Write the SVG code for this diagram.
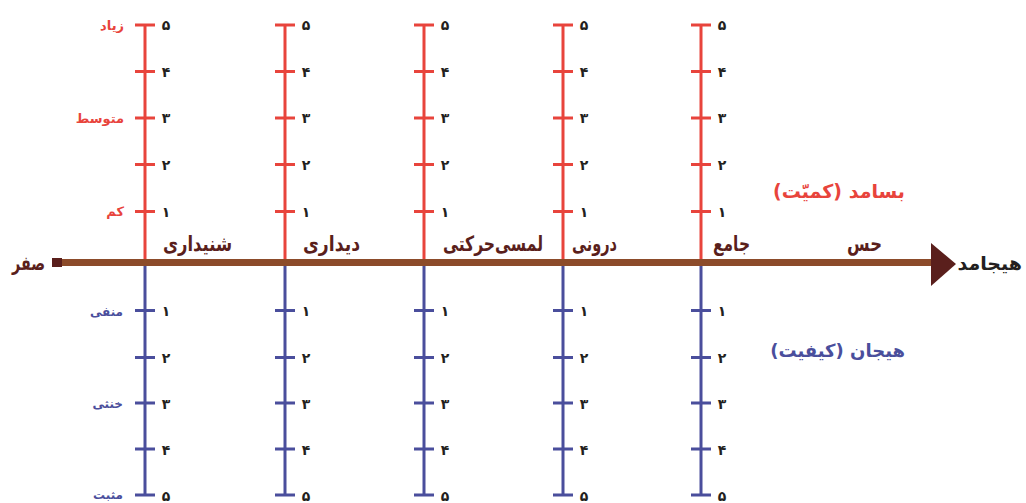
<svg xmlns="http://www.w3.org/2000/svg" width="1026" height="503" viewBox="0 0 1026 503">
<style>
.r{stroke:#e8443c;stroke-width:3;fill:none}
.b{stroke:#4a4e9c;stroke-width:3;fill:none}
.t{font-family:"DejaVu Sans",sans-serif;font-weight:bold}
.num{font-family:"DejaVu Sans",sans-serif;font-weight:bold;font-size:14px;fill:#231f20;text-anchor:middle}
.rl{fill:#e8443c;font-size:13px;text-anchor:end}
.bl{fill:#4a4e9c;font-size:12px;text-anchor:end}
.cl{fill:#5a1f1c;font-size:21px;text-anchor:end}
</style>
<defs>
<g id="up">
<path class="r" d="M0,25V262M-10,25H10M-10,71.5H10M-10,118H10M-10,164.5H10M-10,211.5H10"/>
<text class="num" x="21" y="30">۵</text>
<text class="num" x="21" y="77">۴</text>
<text class="num" x="21" y="123">۳</text>
<text class="num" x="21" y="170">۲</text>
<text class="num" x="21" y="217">۱</text>
</g>
<g id="dn">
<path class="b" d="M0,262V495M-10,310.5H10M-10,357.5H10M-10,403H10M-10,449H10M-10,495H10"/>
<text class="num" x="21" y="316">۱</text>
<text class="num" x="21" y="363">۲</text>
<text class="num" x="21" y="409">۳</text>
<text class="num" x="21" y="455">۴</text>
<text class="num" x="21" y="501">۵</text>
</g>
</defs>
<g id="scales">
<use href="#up" x="145"/><use href="#dn" x="145"/>
<use href="#up" x="285"/><use href="#dn" x="285"/>
<use href="#up" x="424"/><use href="#dn" x="424"/>
<use href="#up" x="563"/><use href="#dn" x="563"/>
<use href="#up" x="701"/><use href="#dn" x="701"/>
</g>
<g id="connectors">
<line x1="58" y1="262.5" x2="934" y2="262.5" stroke="#8c4b2a" stroke-width="7"/>
<rect x="52" y="258" width="10" height="9" fill="#5a1f1c"/>
<polygon points="931,243 956,264 931,286" fill="#5a1f1c"/>
</g>
<g id="left-labels" class="t">
<text class="rl" x="124" y="30">زیاد</text>
<text class="rl" x="124" y="123">متوسط</text>
<text class="rl" x="124" y="216">کم</text>
<text class="bl" x="123" y="316">منفی</text>
<text class="bl" x="123" y="408">خنثی</text>
<text class="bl" x="123" y="499">مثبت</text>
<text x="45" y="270" fill="#5a1f1c" font-size="20" text-anchor="end" textLength="33" lengthAdjust="spacingAndGlyphs">صفر</text>
</g>
<g id="col-labels" class="t">
<text class="cl" x="232" y="251" textLength="69" lengthAdjust="spacingAndGlyphs">شنیداری</text>
<text class="cl" x="360" y="251" textLength="57" lengthAdjust="spacingAndGlyphs">دیداری</text>
<text class="cl" x="543" y="251" textLength="100" lengthAdjust="spacingAndGlyphs">لمسی‌حرکتی</text>
<text class="cl" x="617" y="251" textLength="45" lengthAdjust="spacingAndGlyphs">درونی</text>
<text class="cl" x="750" y="251" textLength="37" lengthAdjust="spacingAndGlyphs">جامع</text>
<text class="cl" x="882" y="251" textLength="35" lengthAdjust="spacingAndGlyphs">حس</text>
</g>
<g id="titles" class="t">
<text x="905" y="198" fill="#e8443c" font-size="19" text-anchor="end">بسامد (کمیّت)&#x200F;</text>
<text x="905" y="357" fill="#4a4e9c" font-size="18" text-anchor="end">هیجان (کیفیت)&#x200F;</text>
<text x="1022" y="270" fill="#231f20" font-size="19" text-anchor="end">هیجامد</text>
</g>
</svg>
